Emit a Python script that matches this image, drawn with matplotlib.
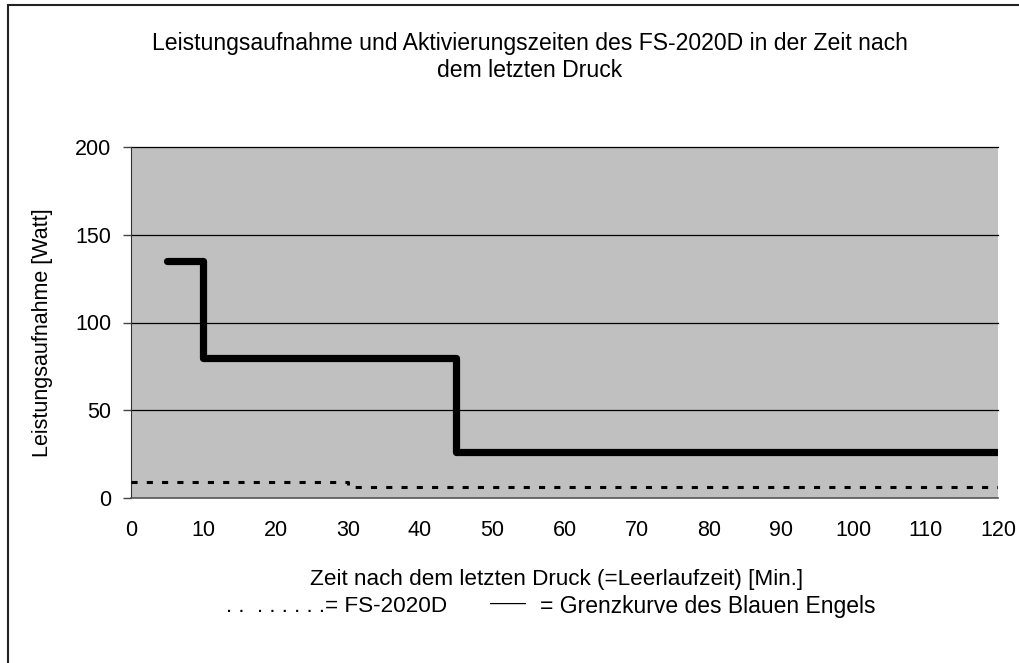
import matplotlib.pyplot as plt
from matplotlib.patches import Rectangle

plt.rcParams['font.family'] = ['Liberation Sans', 'DejaVu Sans']

# Grenzkurve des Blauen Engels (step curve)
grenz_x = [5, 10, 10, 45, 45, 120]
grenz_y = [135, 135, 80, 80, 26, 26]

# FS-2020D measured power
fs_x = [0, 30, 30, 120]
fs_y = [9, 9, 6, 6]

x_ticks = list(range(0, 121, 10))
y_ticks = [0, 50, 100, 150, 200]

fig = plt.figure(figsize=(10.2, 6.63), dpi=100)
ax = fig.add_axes([131 / 1020, 1 - 498 / 663, (998 - 131) / 1020, (498 - 147) / 663])

ax.set_facecolor('#c0c0c0')
ax.plot(grenz_x, grenz_y, color='black', linewidth=5.2, solid_capstyle='round',
        solid_joinstyle='round', zorder=3)
ax.plot(fs_x, fs_y, color='black', linewidth=2.2, linestyle=(0, (2, 3)), zorder=3)

ax.set_xlim(0, 120)
ax.set_ylim(0, 200)
ax.set_xticks(x_ticks)
ax.set_yticks(y_ticks)
ax.tick_params(axis='x', length=0, pad=16, labelsize=15.5)
ax.tick_params(axis='y', length=6, width=1, color='#444444', pad=8, labelsize=15.5)
for y in y_ticks[1:]:
    ax.axhline(y, color='black', linewidth=0.9, zorder=1, clip_on=False)

for side in ['top', 'right']:
    ax.spines[side].set_visible(False)
ax.spines['left'].set_color('#333333')
ax.spines['bottom'].set_color('#555555')
ax.spines['bottom'].set_linewidth(1.2)

ax.set_ylabel('Leistungsaufnahme [Watt]', fontsize=15.5)
ax.yaxis.set_label_coords((53 - 131) / 867, (498 - 333) / 351)

fig.text(530 / 1020, 1 - 57 / 663,
         'Leistungsaufnahme und Aktivierungszeiten des FS-2020D in der Zeit nach\ndem letzten Druck',
         ha='center', va='center', fontsize=16.6, linespacing=1.2)
fig.text(310 / 1020, 1 - 579 / 663, 'Zeit nach dem letzten Druck (=Leerlaufzeit) [Min.]',
         ha='left', va='center', fontsize=16.2)
fig.text(226 / 1020, 1 - 606 / 663, '. .  . . . . . .= FS-2020D',
         ha='left', va='center', fontsize=16.2)
fig.text(490 / 1020, 1 - 603 / 663, '\u2014\u2014',
         ha='left', va='center', fontsize=13)
fig.text(540 / 1020, 1 - 606 / 663, '= Grenzkurve des Blauen Engels',
         ha='left', va='center', fontsize=16.5)

fig.patches.append(Rectangle((8 / 1020, -0.05), 1.2, 1 - 5 / 663 + 0.05,
                             transform=fig.transFigure, fill=False,
                             edgecolor='#222222', linewidth=1.5))

fig.savefig('out.png', dpi=100)
